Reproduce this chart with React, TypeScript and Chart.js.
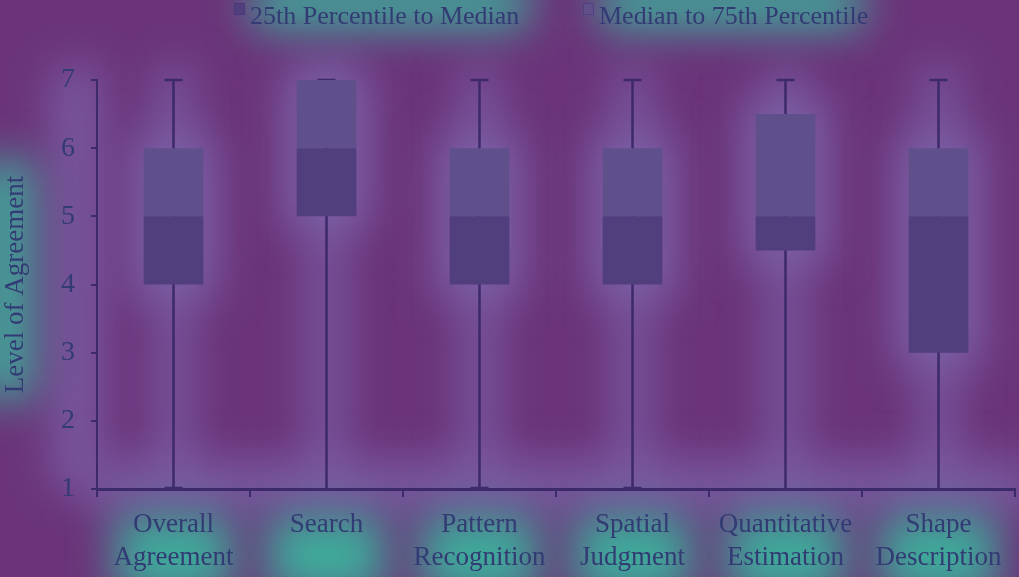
import React, { useEffect, useRef } from "react";
import { Chart, registerables } from "chart.js";

Chart.register(...registerables);

const categories: string[][] = [
  ["Overall", "Agreement"],
  ["Search"],
  ["Pattern", "Recognition"],
  ["Spatial", "Judgment"],
  ["Quantitative", "Estimation"],
  ["Shape", "Description"],
];
const minValues = [1, 1, 1, 1, 1, 1];
const q1Values = [4, 5, 4, 4, 4.5, 3];
const medianValues = [5, 6, 5, 5, 5, 5];
const q3Values = [6, 7, 6, 6, 6.5, 6];
const maxValues = [7, 7, 7, 7, 7, 7];
const lowerCapShown = [true, false, true, true, false, false];
const seriesLabels = ["25th Percentile to Median", "Median to 75th Percentile"];
const yAxisTitle = "Level of Agreement";

const BG = "#6b347a";
const TEXT = "#323b73";
const LINE = "#3d2a6a";
const LOWER_FILL = "#503e7d";
const UPPER_FILL = "#5f508c";
const FONT_FAMILY = '"Liberation Serif", "Times New Roman", serif';
const LEGEND_X = [234, 583];

const glowPlugin = {
  id: "glow",
  beforeDraw(chart: any) {
    const { ctx, chartArea, scales } = chart;
    ctx.save();
    ctx.fillStyle = BG;
    ctx.fillRect(0, 0, chart.width, chart.height);
    ctx.filter = "blur(22px)";
    // lavender halo around boxes and whiskers
    ctx.fillStyle = "rgba(125,100,170,0.8)";
    categories.forEach((_, i) => {
      const x = scales.x.getPixelForValue(i);
      const yTop = scales.y.getPixelForValue(q3Values[i]);
      const yBot = scales.y.getPixelForValue(q1Values[i]);
      ctx.fillRect(x - 44, yTop - 14, 88, yBot - yTop + 28);
      ctx.fillRect(x - 18, chartArea.top - 14, 36, chartArea.bottom - chartArea.top + 14);
    });
    ctx.fillRect(chartArea.left - 45, chartArea.top - 14, 50, chartArea.bottom - chartArea.top + 14);
    ctx.fillRect(chartArea.left - 10, chartArea.bottom - 28, chartArea.right - chartArea.left + 30, 50);
    // teal glow around text
    ctx.fillStyle = "rgba(62,172,155,1)";
    categories.forEach((_, i) => {
      const x = scales.x.getPixelForValue(i);
      ctx.fillRect(x - 58, chartArea.bottom + 26, 116, 80);
    });
    ctx.fillRect(-20, chartArea.top + 80, 52, 240);
    ctx.fillRect(252, -20, 276, 48);
    ctx.fillRect(600, -20, 262, 48);
    ctx.restore();
  },
};

const whiskerPlugin = {
  id: "whiskers",
  beforeDatasetsDraw(chart: any) {
    const { ctx, scales } = chart;
    ctx.save();
    ctx.strokeStyle = LINE;
    ctx.lineWidth = 2.5;
    categories.forEach((_, i) => {
      const x = scales.x.getPixelForValue(i);
      const yMin = scales.y.getPixelForValue(minValues[i]);
      const yMax = scales.y.getPixelForValue(maxValues[i]);
      ctx.beginPath();
      ctx.moveTo(x, yMin);
      ctx.lineTo(x, yMax);
      ctx.moveTo(x - 9, yMax);
      ctx.lineTo(x + 9, yMax);
      if (lowerCapShown[i]) {
        ctx.moveTo(x - 9, yMin - 1);
        ctx.lineTo(x + 9, yMin - 1);
      }
      ctx.stroke();
    });
    ctx.restore();
  },
};

const legendPlugin = {
  id: "customLegend",
  afterDraw(chart: any) {
    const { ctx } = chart;
    ctx.save();
    ctx.textBaseline = "alphabetic";
    ctx.font = `26px ${FONT_FAMILY}`;
    const box = 11;
    const gap = 5;
    seriesLabels.forEach((label, i) => {
      const x = LEGEND_X[i];
      ctx.fillStyle = chart.data.datasets[i].backgroundColor;
      ctx.fillRect(x, 3, box, 12);
      ctx.strokeStyle = "rgba(70,55,120,0.6)";
      ctx.lineWidth = 1;
      ctx.strokeRect(x + 0.5, 3.5, box - 1, 11);
      ctx.fillStyle = TEXT;
      ctx.fillText(label, x + box + gap, 24);
    });
    ctx.restore();
  },
};

export default function App() {
  const ref = useRef<HTMLCanvasElement>(null);
  useEffect(() => {
    if (!ref.current) return;
    const font = { family: FONT_FAMILY, size: 27 };
    const chart = new Chart(ref.current, {
      type: "bar",
      data: {
        labels: categories,
        datasets: [
          {
            label: seriesLabels[0],
            data: q1Values.map((q, i) => [q, medianValues[i]]),
            backgroundColor: LOWER_FILL,
            grouped: false,
            barPercentage: 0.39,
            categoryPercentage: 1,
          } as any,
          {
            label: seriesLabels[1],
            data: medianValues.map((m, i) => [m, q3Values[i]]),
            backgroundColor: UPPER_FILL,
            grouped: false,
            barPercentage: 0.39,
            categoryPercentage: 1,
          } as any,
        ],
      },
      options: {
        animation: false,
        responsive: false,
        maintainAspectRatio: false,
        layout: { padding: { top: 80, right: 4, left: 0, bottom: 0 } },
        plugins: { legend: { display: false }, tooltip: { enabled: false } },
        scales: {
          x: {
            afterFit: (s: any) => {
              s.height = 88;
            },
            grid: {
              drawOnChartArea: false,
              drawTicks: true,
              tickLength: 8,
              color: LINE,
              lineWidth: 2,
              offset: true,
            },
            border: { color: LINE, width: 3 },
            ticks: {
              color: TEXT,
              font: { ...font, lineHeight: 1.23 },
              padding: 11,
              maxRotation: 0,
              autoSkip: false,
            },
          },
          y: {
            min: 1,
            max: 7,
            afterFit: (s: any) => {
              s.width = 97;
            },
            ticks: { stepSize: 1, color: TEXT, font: { family: FONT_FAMILY, size: 28 }, padding: 16 },
            grid: { drawOnChartArea: false, tickLength: 6, color: LINE, lineWidth: 2 },
            border: { color: LINE, width: 2 },
            title: {
              display: true,
              text: yAxisTitle,
              color: TEXT,
              font: { family: FONT_FAMILY, size: 27 },
              padding: { top: 0, bottom: 0 },
            },
          },
        },
      } as any,
      plugins: [glowPlugin, whiskerPlugin, legendPlugin],
    });
    return () => chart.destroy();
  }, []);
  return (
    <div style={{ position: "fixed", left: 0, top: 0, width: 1019, height: 577 }}>
      <canvas ref={ref} width={1019} height={577} style={{ display: "block" }} />
    </div>
  );
}
